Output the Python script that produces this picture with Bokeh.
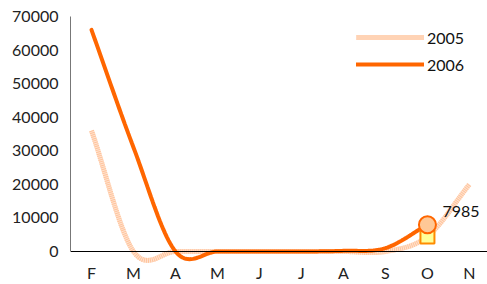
from bokeh.plotting import figure
from bokeh.models import Legend, LegendItem, FixedTicker, Range1d
from bokeh.core.properties import value
from bokeh.embed import file_html
from bokeh.resources import INLINE

months = ["F", "M", "A", "M", "J", "J", "A", "S", "O", "N"]
series_2005 = [36000, 0, 0, 0, 0, 0, 0, 0, 4500, 20000]
series_2006 = [66000, 31000, 0, 0, 0, 0, 200, 1000, 7985]
label_value = 7985
y_ticks = [0, 10000, 20000, 30000, 40000, 50000, 60000, 70000]

FONT = "Lato"


def smooth(ys, n=24):
    """Catmull-Rom style smoothing between consecutive data points."""
    k = len(ys)
    tang = []
    for i in range(k):
        if i == 0:
            tang.append(ys[1] - ys[0])
        elif i == k - 1:
            tang.append(ys[-1] - ys[-2])
        else:
            tang.append((ys[i + 1] - ys[i - 1]) / 2)
    xs_out, ys_out = [], []
    for i in range(k - 1):
        for j in range(n):
            t = j / n
            h00 = 2 * t**3 - 3 * t**2 + 1
            h10 = t**3 - 2 * t**2 + t
            h01 = -2 * t**3 + 3 * t**2
            h11 = t**3 - t**2
            xs_out.append(i + t)
            ys_out.append(h00 * ys[i] + h10 * tang[i] + h01 * ys[i + 1] + h11 * tang[i + 1])
    xs_out.append(k - 1)
    ys_out.append(ys[-1])
    return xs_out, ys_out


p = figure(width=487, height=284, output_backend="svg", toolbar_location=None,
           x_range=Range1d(-0.5, 9.43), y_range=Range1d(-9830, 70000),
           min_border_left=70, min_border_right=0, min_border_top=16, min_border_bottom=0)
p.background_fill_color = None
p.border_fill_color = None
p.outline_line_color = None
p.grid.visible = False

x5, y5 = smooth(series_2005)
x6, y6 = smooth(series_2006)

l5a = p.line(x5, y5, line_color="#FFE3D0", line_width=5)
l5b = p.line(x5, y5, line_color="#FFC39B", line_width=5, line_dash="1 1")
l6 = p.line(x6, y6, line_color="#FF6600", line_width=4, line_cap="round")

o_idx = 8
p.scatter([o_idx], [series_2005[o_idx]], marker="square", size=14,
          fill_color="#FFFF99", line_color="#FF8C00", line_width=2)
p.scatter([o_idx], [series_2006[o_idx]], marker="circle", size=17,
          fill_color="#FFC896", line_color="#FF6600", line_width=2)

p.text([o_idx], [label_value], text=[str(label_value)], x_offset=15, y_offset=-13,
       text_font=value(FONT), text_font_size="16px", text_baseline="middle",
       text_align="left", text_color="#111111")

# axes
p.xaxis.fixed_location = 0
p.xaxis.ticker = FixedTicker(ticks=list(range(len(months))))
p.xaxis.major_label_overrides = {i: m for i, m in enumerate(months)}
p.xaxis.axis_line_color = "#000000"
p.xaxis.major_tick_line_color = None
p.xaxis.minor_tick_line_color = None
p.xaxis.major_label_standoff = 6
p.xaxis.major_label_text_font = FONT
p.xaxis.major_label_text_font_size = "16px"
p.xaxis.major_label_text_color = "#222222"

p.yaxis.ticker = FixedTicker(ticks=y_ticks)
p.yaxis.bounds = (0, 70000)
p.yaxis.axis_line_color = "#777777"
p.yaxis.major_tick_line_color = None
p.yaxis.minor_tick_line_color = None
p.yaxis.major_label_standoff = 6
p.yaxis.major_label_text_font = FONT
p.yaxis.major_label_text_font_size = "16px"
p.yaxis.major_label_text_color = "#222222"
p.yaxis.formatter.use_scientific = False

legend = Legend(items=[LegendItem(label="2005", renderers=[l5a, l5b]),
                       LegendItem(label="2006", renderers=[l6])],
                location=(286, 210), glyph_width=68, glyph_height=20, label_height=20,
                label_standoff=3, spacing=7, padding=0, margin=0,
                border_line_color=None, background_fill_color=None,
                label_text_font=FONT, label_text_font_size="16px", label_text_color="#111111")
p.add_layout(legend)

open("out.html", "w").write(file_html(p, INLINE))
